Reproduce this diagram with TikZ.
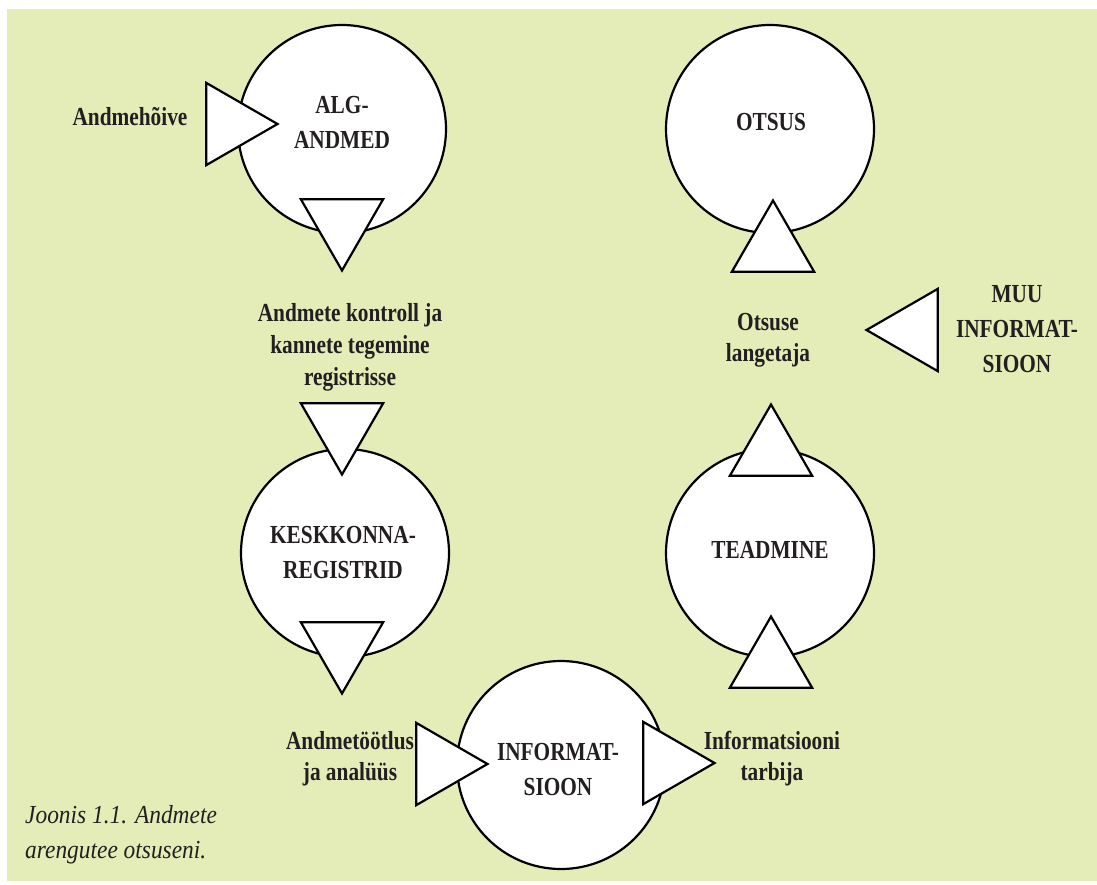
\documentclass[tikz,border=0pt]{standalone}
\usepackage{fontspec}
\setmainfont{Liberation Serif}[FakeStretch=0.82]
\newfontfamily\capfont{Liberation Serif}[FakeStretch=0.9]
\usetikzlibrary{shapes.geometric}
\definecolor{bggreen}{RGB}{228,237,184}
\definecolor{inkgray}{RGB}{35,31,32}
\newcommand{\drawcirc}{\node[draw,circle,fill=white,line width=2.2pt,minimum size=208pt,inner sep=0]}
\newcommand{\drawtri}{\node[draw,regular polygon,regular polygon sides=3,fill=white,line width=2.2pt,minimum size=95pt,inner sep=0]}
\newcommand{\drawlabel}{\node[align=center,inner sep=0,text=inkgray]}

\begin{document}
\begin{tikzpicture}[x=1pt, y=-1pt, every node/.style={font=\bfseries\fontsize{26}{35}\selectfont}]
\useasboundingbox (0,0) rectangle (1097,885);
\fill[bggreen] (7,9) rectangle (1097,881);

%circles
\drawcirc (alg) at (342,129) {};
\drawcirc (otsus) at (770,129) {};
\drawcirc (kesk) at (345,553) {};
\drawcirc (info) at (561,765) {};
\drawcirc (tead) at (770,553) {};

%triangles on top
\drawtri[shape border rotate=-90] (inAlg) at (230,124) {};
\drawtri[shape border rotate=180] (outAlg) at (342,223) {};
\drawtri[shape border rotate=180] (inKesk) at (342,427) {};
\drawtri[shape border rotate=180] (outKesk) at (342,646) {};
\drawtri[shape border rotate=-90] (inInfo) at (440,764) {};
\drawtri[shape border rotate=-90] (outInfo) at (667,763) {};
\drawtri (inTead) at (771,664) {};
\drawtri (outTead) at (771,452) {};
\drawtri (inOtsus) at (773,248) {};
\drawtri[shape border rotate=90] (inMuu) at (914,330) {};

%texts
\drawlabel (tAlg) at (342,122) {ALG-\\ANDMED};
\drawlabel (tOtsus) at (771,122) {OTSUS};
\drawlabel (tKesk) at (343,553) {KESKKONNA-\\REGISTRID};
\drawlabel (tInfo) at (558,770) {INFORMAT-\\SIOON};
\drawlabel (tTead) at (770,550) {TEADMINE};
\drawlabel (tMuu) at (1017,329) {MUU\\INFORMAT-\\SIOON};
\drawlabel (tHoive) at (130,117) {Andmehõive};
\drawlabel[font=\bfseries\fontsize{26}{32}\selectfont] (tKontroll) at (350,347) {Andmete kontroll ja\\kannete tegemine\\registrisse};
\drawlabel[font=\bfseries\fontsize{26}{31}\selectfont] (tOtsustaja) at (768,340) {Otsuse\\langetaja};
\drawlabel[font=\bfseries\fontsize{26}{31}\selectfont] (tTootlus) at (350,759) {Andmetöötlus\\ja analüüs};
\drawlabel[font=\bfseries\fontsize{26}{31}\selectfont] (tTarbija) at (772,759) {Informatsiooni\\tarbija};
\drawlabel[font=\capfont\itshape\fontsize{26}{35}\selectfont, align=left, anchor=north west] (tJoonis) at (25,805) {Joonis 1.1. Andmete\\arengutee otsuseni.};
\end{tikzpicture}
\end{document}
